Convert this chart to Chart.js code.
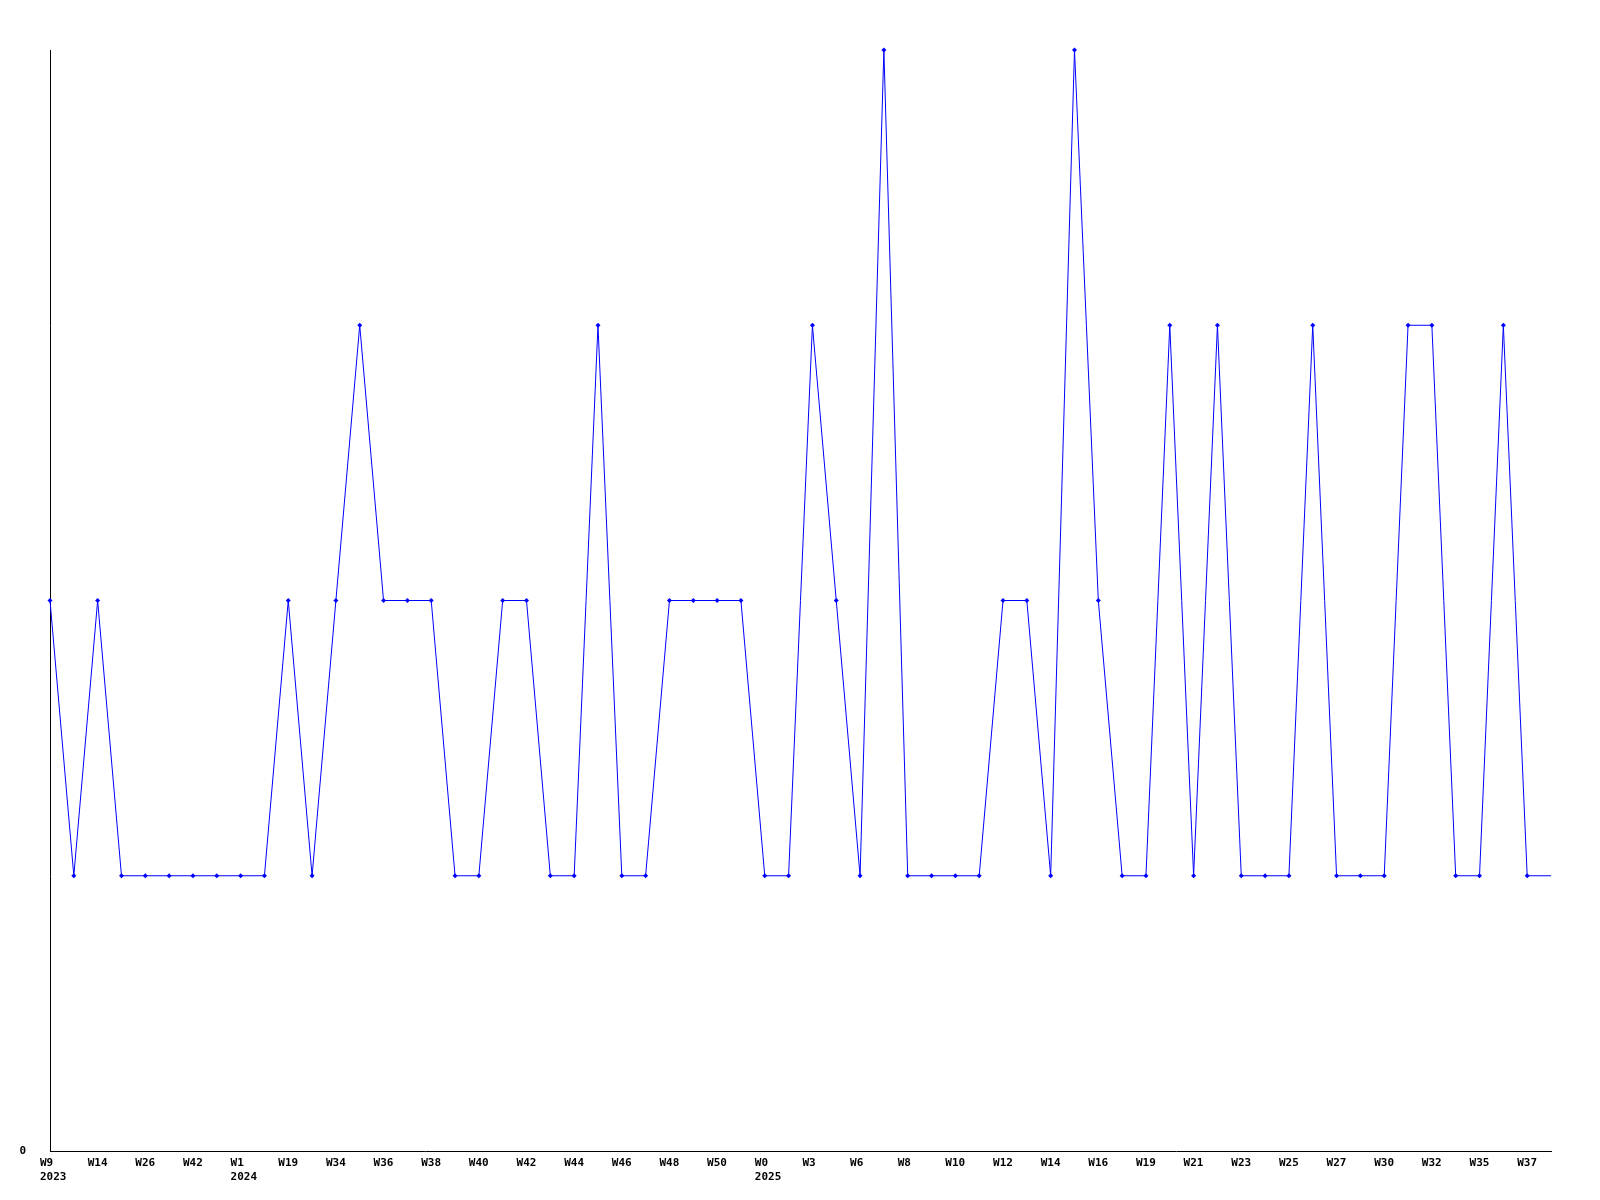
<!DOCTYPE html>
<html>
<head>
<meta charset="utf-8">
<script src="https://cdn.jsdelivr.net/npm/chart.js@4/dist/chart.umd.min.js"></script>
<style>
  html, body { margin: 0; padding: 0; background: #ffffff; }
  #wrap { width: 1600px; height: 1200px; }
</style>
</head>
<body>
<div id="wrap"><canvas id="canvas1" width="1600" height="1200"></canvas></div>
<script>
// one point per week, labels only on every second point
const weekNames = ['W9', 'W14', 'W26', 'W42', 'W1', 'W19', 'W34', 'W36', 'W38', 'W40', 'W42',
    'W44', 'W46', 'W48', 'W50', 'W0', 'W3', 'W6', 'W8', 'W10', 'W12', 'W14', 'W16',
    'W19', 'W21', 'W23', 'W25', 'W27', 'W30', 'W32', 'W35', 'W37']
const yearNames = ['2023', '', '', '', '2024', '', '', '', '', '', '', '', '', '', '', '2025',
    '', '', '', '', '', '', '', '', '', '', '', '', '', '', '', '']

const counts = [2, 1, 2, 1, 1, 1, 1, 1, 1, 1, 2, 1, 2, 3, 2, 2,
    2, 1, 1, 2, 2, 1, 1, 3, 1, 1, 2, 2, 2, 2, 1, 1,
    3, 2, 1, 4, 1, 1, 1, 1, 2, 2, 1, 4, 2, 1, 1, 3,
    1, 3, 1, 1, 1, 3, 1, 1, 1, 3, 3, 1, 1, 3, 1, 1]

const yTickLabels = ['0']

const labels = counts.map((_, i) => i)

function tickLabel(i) {
    if (i % 2 !== 0) return ''
    let k = i / 2
    if (k >= weekNames.length) return ''
    if (yearNames[k]) return [weekNames[k], yearNames[k]]
    return weekNames[k]
}

Chart.defaults.font.family = "'DejaVu Sans Mono', monospace"
Chart.defaults.font.size = 11
Chart.defaults.font.weight = 'bold'
Chart.defaults.color = '#000000'

const config = {
    type: 'line',
    data: {
        labels: labels,
        datasets: [{
            data: counts,
            borderColor: '#0000ff',
            backgroundColor: '#0000ff',
            borderWidth: 1,
            tension: 0,
            pointStyle: 'rectRot',
            pointRadius: (ctx) => ctx.dataIndex === counts.length - 1 ? 0 : 2.5,
            pointBorderWidth: 0,
            clip: false
        }]
    },
    options: {
        responsive: false,
        animation: false,
        layout: {
            padding: { top: 50, right: 49, bottom: 0, left: 0 }
        },
        plugins: {
            legend: { display: false },
            title: { display: false },
            tooltip: { enabled: false }
        },
        scales: {
            x: {
                type: 'category',
                offset: false,
                grid: { display: false, drawTicks: false },
                border: { display: true, color: '#000000', width: 1 },
                ticks: {
                    autoSkip: false,
                    maxRotation: 0,
                    minRotation: 0,
                    align: 'start',
                    labelOffset: -10,
                    padding: 5,
                    font: { lineHeight: 1.3 },
                    callback: function(value, index) {
                        return tickLabel(index)
                    }
                },
                afterFit: function(scale) {
                    scale.height = 49
                }
            },
            y: {
                min: 0,
                max: 4,
                grid: { display: false, drawTicks: false },
                border: { display: true, color: '#000000', width: 1 },
                ticks: {
                    stepSize: 1,
                    padding: 24,
                    callback: function(value) {
                        return value === 0 ? yTickLabels[0] : ''
                    }
                },
                afterFit: function(scale) {
                    scale.width = 50
                }
            }
        }
    }
}

const canvas = document.getElementById('canvas1')
new Chart(canvas.getContext('2d'), config)
</script>
</body>
</html>
